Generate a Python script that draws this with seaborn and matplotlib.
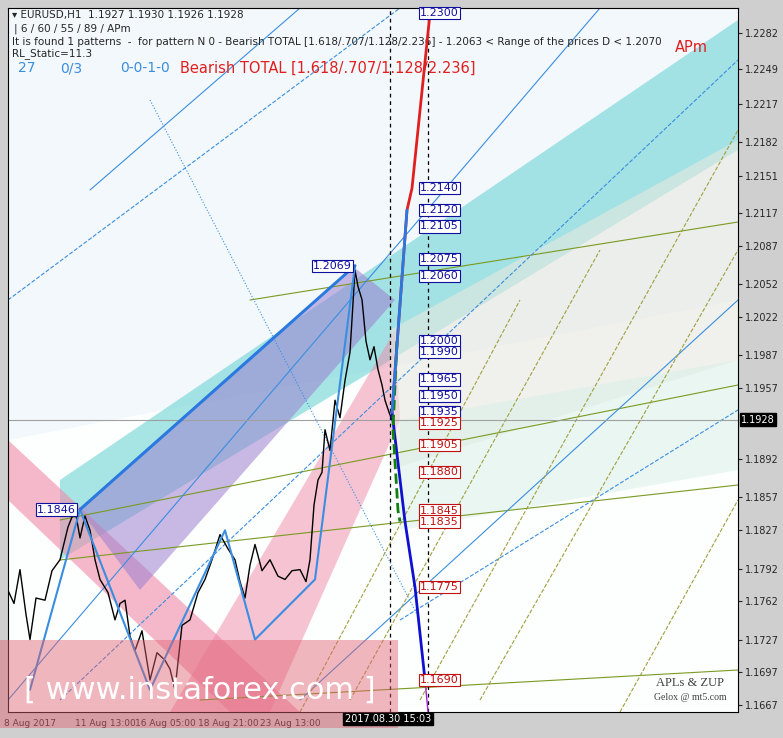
import matplotlib
matplotlib.use("Agg")
import matplotlib.pyplot as plt
import seaborn as sns
import pandas as pd
from matplotlib.patches import Polygon, Rectangle

sns.set_style("white")
plt.rcParams['font.family'] = ['DejaVu Sans']

# ---- data ----
price_x = [8, 14, 20, 26, 30, 36, 45, 52, 60, 68, 75, 80, 85, 90, 95, 100, 108, 115, 120, 125, 130, 135, 142, 150, 157, 165, 170, 175, 182, 190, 198, 205, 212, 220, 228, 235, 240, 245, 250, 255, 262, 270, 278, 285, 292, 300, 306, 310, 314, 318, 322, 325, 330, 335, 340, 345, 350, 355, 358, 362, 366, 370, 374, 378, 382, 385, 389, 392]
price_y = [1.1772, 1.1760, 1.1791, 1.1750, 1.1727, 1.1765, 1.1763, 1.1790, 1.1800, 1.1830, 1.1846, 1.1820, 1.1840, 1.1827, 1.1800, 1.1782, 1.1770, 1.1745, 1.1760, 1.1763, 1.1730, 1.1717, 1.1735, 1.1690, 1.1715, 1.1708, 1.1700, 1.1681, 1.1740, 1.1745, 1.1770, 1.1782, 1.1800, 1.1823, 1.1810, 1.1800, 1.1780, 1.1765, 1.1795, 1.1814, 1.1790, 1.1800, 1.1785, 1.1782, 1.1790, 1.1791, 1.1780, 1.1800, 1.1850, 1.1873, 1.1880, 1.1919, 1.1900, 1.1946, 1.1930, 1.1964, 1.1990, 1.2065, 1.2050, 1.2038, 1.2000, 1.1983, 1.1995, 1.1974, 1.1960, 1.1946, 1.1935, 1.1928]

zup_x = [30, 80, 150, 225, 255, 315, 355]
zup_y = [1.1681, 1.1846, 1.1681, 1.1827, 1.1727, 1.1782, 1.2069]
proj_x = [392, 407, 412, 430]
proj_y = [1.1935, 1.2120, 1.2140, 1.2300]
down_x = [392, 405, 415, 425]
down_y = [1.1935, 1.1835, 1.1775, 1.1690]
green_x = [397, 393, 398, 400]
green_y = [1.2000, 1.1920, 1.1845, 1.1835]

blue_labels = ["1.2300", "1.2140", "1.2120", "1.2105", "1.2075", "1.2060", "1.2000", "1.1990", "1.1965", "1.1950", "1.1935"]
blue_vals = [1.2300, 1.2140, 1.2120, 1.2105, 1.2075, 1.2060, 1.2000, 1.1990, 1.1965, 1.1950, 1.1935]
red_labels = ["1.1925", "1.1905", "1.1880", "1.1845", "1.1835", "1.1775", "1.1690"]
red_vals = [1.1925, 1.1905, 1.1880, 1.1845, 1.1835, 1.1775, 1.1690]

ytick_vals = [1.2282, 1.2249, 1.2217, 1.2182, 1.2151, 1.2117, 1.2087, 1.2052, 1.2022, 1.1987, 1.1957, 1.1892, 1.1857, 1.1827, 1.1792, 1.1762, 1.1727, 1.1697, 1.1667]
xtick_pos = [30, 105, 165, 228, 290]
xtick_labels = ["8 Aug 2017", "11 Aug 13:00", "16 Aug 05:00", "18 Aug 21:00", "23 Aug 13:00"]

def P(y):
    return 1.2282 - (y - 33) * 0.0000915

fig = plt.figure(figsize=(7.83, 7.38), dpi=100)
fig.patch.set_facecolor('#cfcfcf')
ax = fig.add_axes([8/783, 26/738, 730/783, 704/738])
ax.set_facecolor('#f3f8fc')
ax.set_xlim(8, 738)
ax.set_ylim(P(712), P(8))

def poly(pts, color, alpha):
    ax.add_patch(Polygon([(x, P(y)) for x, y in pts], closed=True, facecolor=color, alpha=alpha, edgecolor='none', zorder=1))

# bands
poly([(8, 712), (8, 440), (738, 300), (738, 712)], '#ffffff', 0.9)
poly([(60, 480), (738, 20), (738, 150), (60, 560)], '#40c8c8', 0.45)
poly([(8, 440), (8, 500), (230, 712), (300, 712)], '#f08aa8', 0.6)
poly([(170, 712), (270, 712), (400, 420), (395, 330)], '#f08aa8', 0.5)
poly([(80, 510), (355, 268), (395, 300), (140, 590)], '#9b7fd0', 0.55)
poly([(390, 330), (738, 140), (738, 360), (390, 470)], '#e8e8e0', 0.6)
poly([(400, 420), (738, 360), (738, 470), (400, 530)], '#d8f0e8', 0.5)

for (x0, y0, x1, y1, c, ls) in [
    (60, 520, 738, 385, '#7a9a20', '-'), (60, 560, 738, 485, '#7a9a20', '-'),
    (250, 300, 738, 222, '#7a9a20', '-'), (200, 700, 738, 670, '#7a9a20', '-'),
    (8, 700, 600, 8, '#3a8ee0', '-'), (60, 700, 738, 60, '#3a8ee0', '--'),
    (90, 190, 300, 8, '#3a8ee0', '-'), (300, 700, 738, 300, '#3a8ee0', '-'),
    (400, 620, 738, 410, '#3a8ee0', '--'), (8, 300, 400, 8, '#3a8ee0', '--'),
    (150, 100, 420, 620, '#3a8ee0', ':'), (420, 700, 738, 130, '#a0a040', '--'),
    (480, 700, 738, 250, '#a0a040', '--'), (350, 700, 600, 250, '#a0a040', '--'),
    (300, 712, 520, 300, '#a0a040', '--'), (620, 712, 738, 500, '#a0a040', '--')]:
    ax.plot([x0, x1], [P(y0), P(y1)], color=c, lw=0.8, ls=ls, zorder=2)

ax.axhline(1.1928, color='#a0a0a0', lw=0.8, zorder=2)
for xv in (390, 428):
    ax.axvline(xv, color='black', lw=0.9, ls=(0, (3, 3)), zorder=3)

df = pd.DataFrame({'x': price_x, 'y': price_y})
sns.lineplot(data=df, x='x', y='y', color='black', lw=1.0, ax=ax, zorder=4)
sns.lineplot(x=zup_x, y=zup_y, color='#3a8ee0', lw=1.5, ax=ax, sort=False, zorder=5)
ax.plot([80, 355], [1.1846, 1.2069], color='#2a78e0', lw=2.2, zorder=5)
sns.lineplot(x=proj_x, y=proj_y, color='#e02020', lw=2, ax=ax, sort=False, zorder=5)
ax.plot(proj_x[:2], proj_y[:2], color='#2a78e0', lw=2, zorder=6)
sns.lineplot(x=down_x, y=down_y, color='#1010d0', lw=2, ax=ax, sort=False, zorder=5)
ax.plot([425, 428], [1.1690, 1.1661], color='#a020d0', lw=1, zorder=5)
sns.lineplot(x=green_x, y=green_y, color='#108010', lw=2, ls='--', ax=ax, sort=False, zorder=5)

for lab, v in zip(blue_labels, blue_vals):
    ax.text(420, v, lab, fontsize=8, color='#1010a0', va='center', zorder=7,
            bbox=dict(boxstyle='square,pad=0.1', fc='white', ec='#1010a0', lw=0.8))
for lab, v in zip(red_labels, red_vals):
    ax.text(420, v, lab, fontsize=8, color='#c01010', va='center', zorder=7,
            bbox=dict(boxstyle='square,pad=0.1', fc='white', ec='#c01010', lw=0.8))
ax.text(313, 1.2069, "1.2069", fontsize=8, color='#1010a0', va='center', zorder=7,
        bbox=dict(boxstyle='square,pad=0.1', fc='white', ec='#1010a0', lw=0.8))
ax.text(37, 1.1846, "1.1846", fontsize=8, color='#1010a0', va='center', zorder=7,
        bbox=dict(boxstyle='square,pad=0.1', fc='white', ec='#1010a0', lw=0.8))

ax.text(12, P(15), "▾ EURUSD,H1  1.1927 1.1930 1.1926 1.1928", fontsize=7.5, va='center')
ax.text(14, P(29), "| 6 / 60 / 55 / 89 / APm", fontsize=7.5, va='center')
ax.text(12, P(42), "It is found 1 patterns  -  for pattern N 0 - Bearish TOTAL [1.618/.707/1.128/2.236] - 1.2063 < Range of the prices D < 1.2070", fontsize=7.5, va='center', clip_on=True)
ax.text(12, P(54), "RL_Static=11.3", fontsize=7.5, va='center')
ax.text(18, P(68), "27", fontsize=10, color='#3a8ee0', va='center')
ax.text(60, P(68), "0/3", fontsize=10, color='#3a8ee0', va='center')
ax.text(120, P(68), "0-0-1-0", fontsize=10, color='#3a8ee0', va='center')
ax.text(180, P(68), "Bearish TOTAL [1.618/.707/1.128/2.236]", fontsize=10.5, color='#e02020', va='center')
ax.text(675, P(48), "APm", fontsize=10.5, color='#e02020', va='center')
ax.text(690, P(683), "APLs & ZUP", fontsize=9, family='Liberation Serif', ha='center', va='center', color='#404040')
ax.text(690, P(698), "Gelox @ mt5.com", fontsize=7, family='Liberation Serif', ha='center', va='center', color='#404040')

ax.add_patch(Rectangle((0, P(728)), 398, P(640) - P(728), facecolor='#e06070', alpha=0.45, edgecolor='none', zorder=8, clip_on=False))
ax.text(200, P(690), "[ www.instaforex.com ]", fontsize=22, color='white', ha='center', va='center', zorder=9)

ax.yaxis.tick_right()
ax.set_yticks(ytick_vals)
ax.set_yticklabels([f"{v:.4f}" for v in ytick_vals], fontsize=7)
ax.tick_params(axis='y', length=3, pad=2)
ax.text(741, 1.1928, "1.1928", fontsize=7, color='white', va='center', transform=ax.transData,
        bbox=dict(boxstyle='square,pad=0.15', fc='black', ec='black'), clip_on=False)
ax.set_xticks(xtick_pos)
ax.set_xticklabels(xtick_labels, fontsize=6.5)
ax.tick_params(axis='x', length=3, pad=2)
ax.text(388, P(719), "2017.08.30 15:03", fontsize=7, color='white', ha='center', va='center',
        bbox=dict(boxstyle='square,pad=0.15', fc='black', ec='black'), clip_on=False, zorder=10)
ax.set_xlabel(''); ax.set_ylabel('')
for s in ax.spines.values():
    s.set_color('black'); s.set_linewidth(0.8)

fig.savefig("out.png", dpi=100, facecolor=fig.get_facecolor())
